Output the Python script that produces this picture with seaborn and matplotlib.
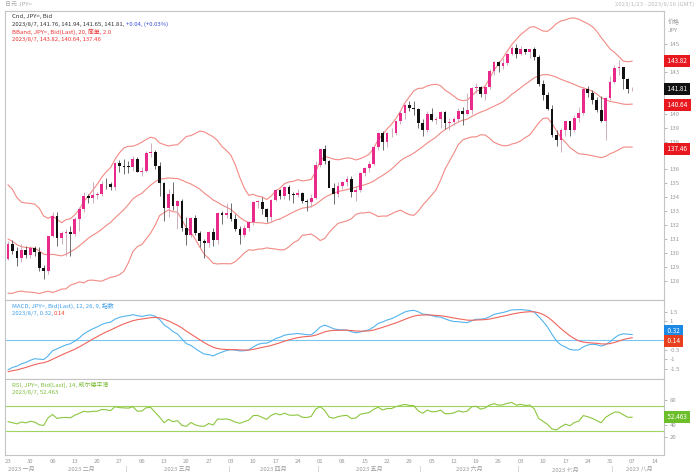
import numpy as np
import pandas as pd
import matplotlib
matplotlib.use("Agg")
import matplotlib.pyplot as plt
import matplotlib.transforms as mtrans
import seaborn as sns

sns.set_style("white")
plt.rcParams["font.family"] = ["Noto Sans CJK SC", "DejaVu Sans"]

# closes before the visible window (only used to warm up the indicators)
warmup_close = [139.9, 139.3, 139.5, 140.3, 140.4, 142.1, 141.2, 139.6, 138.6, 139.2,
                138.9, 138.7, 138.1, 135.3, 134.3, 136.7, 137.0, 136.6, 136.6, 136.6,
                137.7, 135.6, 135.5, 137.8, 136.7, 136.9, 131.7, 132.4, 132.4, 132.8,
                132.9, 133.5, 134.4, 133.0, 131.1, 130.7, 131.0, 132.5, 133.4, 132.1,
                131.9, 132.3, 132.5, 129.2, 127.9, 128.5, 128.2, 128.9, 128.4, 129.6]

# daily candles 2023-01-23 .. 2023-08-07
opens = [129.58, 130.65, 130.16, 129.60, 130.21, 129.87, 130.35, 130.09, 128.92, 128.66,
         131.19, 132.62, 131.06, 131.40, 131.50, 131.36, 132.40, 133.16, 134.12, 133.93,
         134.16, 134.24, 134.97, 134.92, 134.70, 136.47, 136.25, 136.20, 136.15, 136.75,
         135.82, 135.91, 137.16, 137.26, 136.25, 135.04, 133.21, 134.25, 133.40, 133.73,
         131.80, 131.31, 132.49, 131.42, 130.85, 130.72, 131.53, 130.89, 132.84, 132.72,
         132.86, 132.45, 131.72, 131.30, 131.78, 132.19, 133.63, 133.66, 133.12, 132.55,
         133.78, 134.49, 134.11, 134.70, 134.22, 134.16, 134.28, 133.72, 133.65, 133.95,
         136.29, 137.47, 136.58, 134.64, 134.25, 134.82, 135.12, 135.28, 134.34, 134.53,
         135.73, 136.07, 136.36, 137.63, 138.61, 137.96, 138.59, 138.60, 139.49, 140.09,
         140.61, 140.41, 140.36, 139.33, 138.80, 139.96, 139.58, 139.62, 140.13, 139.35,
         139.38, 139.61, 140.23, 140.00, 140.28, 141.84, 141.95, 141.46, 141.90, 143.06,
         143.74, 143.47, 143.66, 144.31, 144.74, 144.32, 144.65, 144.47, 144.65, 144.07,
         142.13, 141.33, 140.38, 138.50, 138.08, 138.80, 139.46, 138.82, 139.67, 140.06,
         141.82, 141.47, 140.97, 140.28, 139.48, 141.17, 142.29, 143.32, 143.34, 142.54,
         141.76]
highs = [130.85, 130.90, 130.40, 130.62, 130.50, 130.50, 130.48, 130.40, 129.10, 131.20,
         132.90, 132.90, 131.60, 131.70, 131.90, 132.60, 133.30, 134.35, 134.20, 135.10,
         134.40, 135.20, 135.40, 135.10, 136.50, 136.70, 136.75, 136.60, 137.00, 136.90,
         136.20, 137.30, 137.90, 137.40, 136.50, 135.10, 134.60, 135.10, 133.80, 133.90,
         132.60, 132.60, 132.70, 131.60, 131.00, 131.60, 131.80, 132.90, 133.00, 133.60,
         133.60, 132.80, 131.95, 132.00, 132.30, 133.70, 133.80, 134.00, 133.20, 133.90,
         134.60, 134.60, 134.80, 134.90, 134.40, 134.60, 134.40, 133.90, 134.20, 136.60,
         137.50, 137.75, 136.70, 135.00, 135.10, 135.20, 135.50, 135.50, 134.80, 135.80,
         136.20, 136.60, 137.70, 138.70, 138.75, 138.70, 139.00, 139.50, 140.20, 140.70,
         140.90, 140.90, 140.40, 139.60, 140.20, 140.40, 139.80, 140.20, 140.20, 139.70,
         139.80, 140.40, 140.50, 141.50, 141.90, 142.20, 142.00, 142.00, 143.20, 143.80,
         143.80, 144.00, 144.40, 144.90, 145.05, 144.90, 144.70, 144.70, 144.80, 144.20,
         142.40, 141.60, 140.60, 138.80, 139.00, 139.50, 139.50, 139.90, 140.50, 141.90,
         142.00, 141.70, 141.20, 141.30, 141.20, 142.70, 143.50, 143.90, 143.40, 142.60,
         141.94]
lows = [129.50, 129.90, 129.02, 129.30, 129.65, 129.60, 129.80, 128.70, 128.08, 128.50,
        131.10, 130.50, 130.60, 129.80, 129.80, 131.20, 131.55, 132.95, 133.60, 133.60,
        133.90, 134.10, 134.60, 134.50, 134.50, 135.80, 135.70, 135.75, 135.90, 135.80,
        135.50, 135.80, 136.90, 136.00, 134.10, 132.30, 132.60, 133.10, 131.70, 131.60,
        130.55, 131.10, 131.30, 130.40, 129.65, 130.40, 130.50, 130.60, 132.10, 132.50,
        132.30, 131.60, 130.60, 131.10, 131.60, 132.00, 133.20, 132.80, 132.20, 132.30,
        133.70, 133.90, 133.90, 133.80, 133.60, 134.00, 133.60, 133.00, 133.30, 133.90,
        136.20, 136.40, 134.80, 133.50, 134.00, 134.60, 134.80, 134.00, 133.70, 134.40,
        135.50, 135.80, 136.30, 137.40, 137.40, 137.60, 138.30, 138.50, 139.30, 139.60,
        140.20, 139.90, 139.00, 138.40, 138.70, 139.50, 139.30, 139.00, 138.90, 138.80,
        139.20, 139.40, 139.20, 139.90, 140.00, 141.50, 141.20, 141.00, 141.80, 142.80,
        143.00, 143.20, 143.50, 144.20, 144.00, 144.20, 144.30, 144.00, 143.90, 142.00,
        141.00, 140.30, 138.30, 137.70, 137.25, 138.40, 138.40, 138.70, 139.40, 139.90,
        141.20, 140.70, 140.10, 139.40, 138.10, 141.00, 142.20, 142.80, 141.80, 141.50,
        141.65]
closes = [130.65, 130.16, 129.60, 130.21, 129.87, 130.35, 130.09, 128.92, 128.66, 131.19,
          132.62, 131.06, 131.40, 131.50, 131.36, 132.40, 133.16, 134.12, 133.93, 134.16,
          134.24, 134.97, 134.92, 134.70, 136.47, 136.25, 136.20, 136.15, 136.75, 135.82,
          135.91, 137.16, 137.26, 136.25, 135.04, 133.21, 134.25, 133.40, 133.73, 131.80,
          131.31, 132.49, 131.42, 130.85, 130.72, 131.53, 130.89, 132.84, 132.72, 132.86,
          132.45, 131.72, 131.30, 131.78, 132.19, 133.63, 133.66, 133.12, 132.55, 133.78,
          134.49, 134.11, 134.70, 134.22, 134.16, 134.28, 133.72, 133.65, 133.95, 136.29,
          137.47, 136.58, 134.64, 134.25, 134.82, 135.12, 135.28, 134.34, 134.53, 135.73,
          136.07, 136.36, 137.63, 138.61, 137.96, 138.59, 138.60, 139.49, 140.09, 140.61,
          140.41, 140.36, 139.33, 138.80, 139.96, 139.58, 139.62, 140.13, 139.35, 139.38,
          139.61, 140.23, 140.00, 140.28, 141.84, 141.95, 141.46, 141.90, 143.06, 143.74,
          143.47, 143.66, 144.31, 144.74, 144.32, 144.65, 144.47, 144.65, 144.07, 142.13,
          141.33, 140.38, 138.50, 138.08, 138.80, 139.46, 138.82, 139.67, 140.06, 141.82,
          141.47, 140.97, 140.28, 139.48, 141.17, 142.29, 143.32, 143.34, 142.54, 141.77,
          141.81]

axis_days = pd.bdate_range("2023-01-23", "2023-08-16")
month_names = ["2023 一月", "2023 二月", "2023 三月", "2023 四月",
               "2023 五月", "2023 六月", "2023 七月", "2023 八月"]

last_price = "141.81"
bb_last = [143.82, 140.64, 137.46]
macd_last = [0.32, 0.14]
rsi_last = 52.463
rsi_levels = [70, 30]
price_ticks = [128, 129, 130, 131, 132, 133, 134, 135, 136, 138, 139, 140, 143, 145]
macd_ticks = [-1.5, -1, -0.5, 1, 1.5]
rsi_ticks = [20, 40, 80]

# ---- indicators
n_warm = len(warmup_close)
full = pd.Series(warmup_close + closes)
mid = full.rolling(20).mean()
sd = full.rolling(20).std(ddof=0)
upper = (mid + 2 * sd).iloc[n_warm:].values
lower = (mid - 2 * sd).iloc[n_warm:].values
mid = mid.iloc[n_warm:].values

macd = full.ewm(span=12, adjust=False).mean() - full.ewm(span=26, adjust=False).mean()
signal = macd.ewm(span=9, adjust=False).mean()
macd = macd.iloc[n_warm:].values
signal = signal.iloc[n_warm:].values

diff = full.diff()
gain = diff.clip(lower=0).ewm(alpha=1 / 14, adjust=False).mean()
loss = (-diff.clip(upper=0)).ewm(alpha=1 / 14, adjust=False).mean()
rsi = (100 - 100 / (1 + gain / loss)).iloc[n_warm:].values

pos = np.arange(len(closes))
df = pd.DataFrame({"pos": pos, "open": opens, "high": highs, "low": lows, "close": closes,
                   "upper": upper, "mid": mid, "lower": lower,
                   "macd": macd, "signal": signal, "rsi": rsi})

# ---- layout in pixels
W, H = 699, 472
def rect(x0, y0, x1, y1):
    return [x0 / W, 1 - y1 / H, (x1 - x0) / W, (y1 - y0) / H]

fig = plt.figure(figsize=(W / 100, H / 100), dpi=100)
ax_p = fig.add_axes(rect(5, 11, 664, 300))
ax_m = fig.add_axes(rect(5, 300, 664, 379), sharex=ax_p)
ax_r = fig.add_axes(rect(5, 379, 664, 455), sharex=ax_p)

UP, DOWN = "#e82a8a", "#111111"
GRAY = "#9a9a9a"
FS = 4.3

for ax in (ax_p, ax_m, ax_r):
    ax.set_facecolor("white")
    for s in ax.spines.values():
        s.set_color("#c4c4c4")
        s.set_linewidth(0.8)
    ax.yaxis.tick_right()
    ax.tick_params(axis="y", labelsize=FS, colors=GRAY, length=2, width=0.5, pad=2)

# ---- candles
up = df["close"] >= df["open"]
col = np.where(up, UP, DOWN)
ax_p.vlines(df["pos"], df["low"], df["high"], color=np.where(up, "#c8a0b4", "#555555"), lw=0.6, zorder=2)
ax_p.bar(df["pos"], (df["close"] - df["open"]).abs().clip(lower=0.06),
         bottom=df[["open", "close"]].min(axis=1), width=0.62, color=col, lw=0, zorder=3)

for c in ["upper", "mid", "lower"]:
    sns.lineplot(data=df, x="pos", y=c, ax=ax_p, color="#f28a84", lw=0.8, zorder=1)
ax_p.set_ylim(126.6, 147.4)
ax_p.set_yticks(price_ticks)
ax_p.set_xlim(-0.67, 147.1)

# ---- MACD
ax_m.axhline(0, color="#7cc6f2", lw=0.8)
sns.lineplot(data=df, x="pos", y="macd", ax=ax_m, color="#54b4ee", lw=0.8)
sns.lineplot(data=df, x="pos", y="signal", ax=ax_m, color="#f0645c", lw=0.8)
ax_m.set_ylim(-2.03, 2.13)
ax_m.set_yticks(macd_ticks)
ax_m.set_yticklabels([f"{t:g}" for t in macd_ticks])

# ---- RSI
for lv in rsi_levels:
    ax_r.axhline(lv, color="#9fd45e", lw=0.8)
sns.lineplot(data=df, x="pos", y="rsi", ax=ax_r, color="#8cc63f", lw=0.8)
ax_r.set_ylim(-10, 115)
ax_r.set_yticks(rsi_ticks)

for ax in (ax_p, ax_m, ax_r):
    ax.set_xlabel("")
    ax.set_ylabel("")

# ---- x axis labels
mondays = [i for i, d in enumerate(axis_days) if d.weekday() == 0]
ax_r.set_xticks(mondays)
ax_r.set_xticklabels([axis_days[i].strftime("%d") for i in mondays])
ax_r.tick_params(axis="x", labelsize=FS, colors=GRAY, length=2, width=0.5, pad=1)
plt.setp(ax_p.get_xticklabels(), visible=False)
plt.setp(ax_m.get_xticklabels(), visible=False)
ax_p.tick_params(axis="x", length=0)
ax_m.tick_params(axis="x", length=0)

months = pd.Series(np.arange(len(axis_days)), index=axis_days).groupby(axis_days.month)
xt = mtrans.blended_transform_factory(ax_r.transData, fig.transFigure)
for k, (m, grp) in enumerate(months):
    center = (max(grp.iloc[0], -0.67) + grp.iloc[-1]) / 2
    fig.text(center, 1 - 469 / H, month_names[k], transform=xt, ha="center", va="center",
             fontsize=FS, color=GRAY)
    if k > 1:
        fig.text(grp.iloc[0] - 0.5, 1 - 469 / H, "|", transform=xt, ha="center", va="center",
                 fontsize=FS, color=GRAY)

# ---- header texts (pieces laid side by side on a common baseline)
renderer = fig.canvas.get_renderer()
def hdr_line(y_px, parts):
    x = 12
    for txt, c in parts:
        t = fig.text(x / W, 1 - (y_px + 2) / H, txt, color=c, fontsize=FS, va="baseline")
        x += t.get_window_extent(renderer).width

hdr_line(16, [("Cnd, JPY=, Bid", "#333333")])
hdr_line(24, [("2023/8/7, 141.76, 141.94, 141.65, 141.81, ", "#333333"), ("+0.04, (+0.03%)", "#3a4fd8")])
hdr_line(32, [("BBand, JPY=, Bid(Last), 20, 简单, 2.0", "#ee3333")])
hdr_line(39, [("2023/8/7, 143.82, 140.64, 137.46", "#ee3333")])
hdr_line(306, [("MACD, JPY=, Bid(Last), 12, 26, 9, 指数", "#3f9ee8")])
hdr_line(313, [("2023/8/7, 0.32, ", "#3f9ee8"), ("0.14", "#ee4433")])
hdr_line(385, [("RSI, JPY=, Bid(Last), 14, 威尔德平滑", "#7cbc3a")])
hdr_line(392, [("2023/8/7, 52.463", "#7cbc3a")])

fig.text(5 / W, 1 - 4 / H, "日元 JPY=", fontsize=FS, color="#aaaaaa", va="center")
fig.text(694 / W, 1 - 4 / H, "2023/1/23 - 2023/8/16 (GMT)", fontsize=FS, color="#bbbbbb",
         va="center", ha="right")
fig.text(668 / W, 1 - 22 / H, "价格", fontsize=FS, color=GRAY, va="center")
fig.text(668 / W, 1 - 31 / H, "JPY", fontsize=FS, color=GRAY, va="center")

# ---- value tags on the right axis
def tag(ax, y, txt, fc, shift_px=0):
    tr = mtrans.blended_transform_factory(ax.transAxes, ax.transData)
    tr = mtrans.offset_copy(tr, fig=fig, x=0, y=shift_px * 0.72, units="points")
    ax.text(1.003, y, " " + txt + " ", transform=tr, fontsize=4.6, color="white", va="center",
            ha="left", bbox=dict(boxstyle="square,pad=0.3", fc=fc, ec="none"), zorder=5,
            clip_on=False)

for v in bb_last:
    tag(ax_p, v, f"{v:.2f}", "#e8191e")
tag(ax_p, float(last_price), last_price, "#111111")
tag(ax_m, macd_last[0], f"{macd_last[0]:.2f}", "#1e88e5", shift_px=3)
tag(ax_m, macd_last[1], f"{macd_last[1]:.2f}", "#e8401e", shift_px=-3)
tag(ax_r, rsi_last, f"{rsi_last:.3f}", "#6cbf2a")

fig.savefig("out.png", dpi=100, facecolor="white")
